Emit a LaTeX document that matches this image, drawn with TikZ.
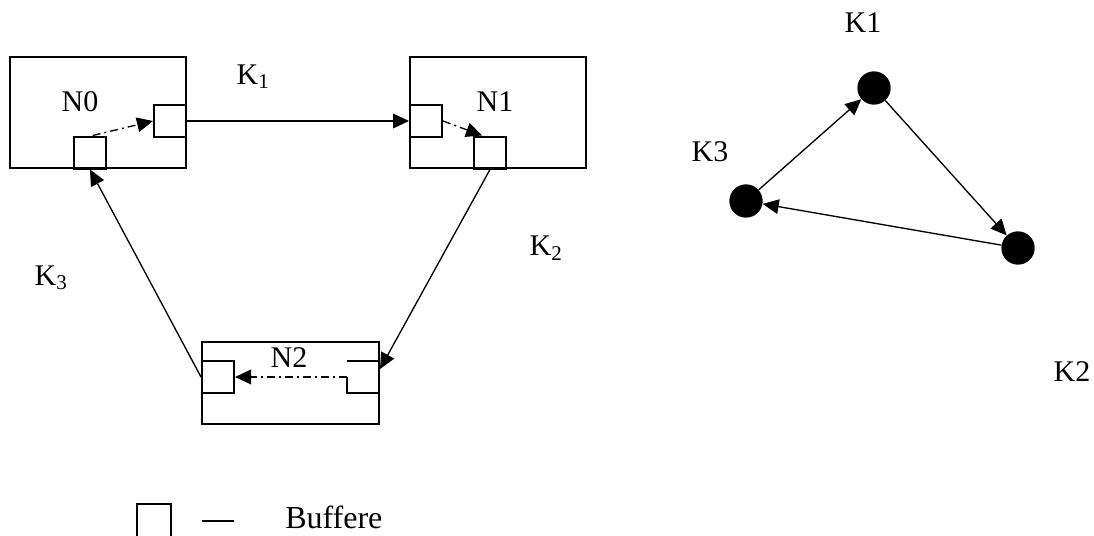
\documentclass[tikz,border=0pt]{standalone}
\usepackage{fontspec}
\setmainfont{Liberation Serif}
\usetikzlibrary{arrows.meta}
\begin{document}
\begin{tikzpicture}[x=0.75pt,y=-0.75pt,
  lbl/.style={font=\fontsize{22.5}{27}\selectfont, inner sep=0pt},
  bigbox/.style={draw, line width=1.5pt, inner sep=0pt, minimum width=132pt, minimum height=83.25pt},
  buf/.style={draw, line width=1.5pt, inner sep=0pt, minimum size=24pt},
  dot/.style={circle, fill=black, inner sep=0pt, minimum size=25pt},
  conn/.style={line width=1pt, -{Triangle[length=12pt,width=11pt]}},
  dashconn/.style={conn, dash pattern=on 6pt off 3pt on 1.5pt off 3pt}]
\useasboundingbox (0,0) rectangle (1094,535);
% boxes
\node[bigbox] (N0) at (98,112.5) {};
\node[bigbox] (N1) at (498,112.5) {};
\node[bigbox, minimum width=132.75pt, minimum height=61.5pt] (N2) at (290.5,383) {};
% buffers
\node[buf] (b0r) at (170,121) {};
\node[buf] (b0b) at (90,152.5) {};
\node[buf] (b1l) at (426,121) {};
\node[buf] (b1b) at (490,152.5) {};
\node[buf] (b2l) at (218,377) {};
\draw[line width=1.5pt] (347,361) -- (379,361);
\draw[line width=1.5pt] (347,377) -- (347,393) -- (379,393);
\coordinate (b2r) at (347,377);
\coordinate (k2end) at (380,369);
% labels
\node[lbl] (tN0) at (80,102) {N0};
\node[lbl] (tN1) at (495,102) {N1};
\node[lbl] (tN2) at (289,358) {N2};
\node[lbl] (tK1) at (253,77) {K\textsubscript{1}};
\node[lbl] (tK2) at (546,248) {K\textsubscript{2}};
\node[lbl] (tK3) at (51,278) {K\textsubscript{3}};
% connectors
\draw[conn] (b0r.east) -- (b1l.west);
\draw[conn] (b1b.south) -- (k2end);
\draw[conn] (b2l.west) -- (b0b.south);
\draw[dashconn] ([xshift=2pt]b0b.north) -- (b0r.west);
\draw[dashconn] (b1l.east) -- ([xshift=-6pt]b1b.north);
\draw[dashconn] (b2r) -- (b2l.east);
% right graph
\node[dot] (c1) at (874,88) {};
\node[dot] (c3) at (746,201) {};
\node[dot] (c2) at (1018,248) {};
\node[lbl] (l1) at (863,23) {K1};
\node[lbl] (l3) at (710,152) {K3};
\node[lbl] (l2) at (1072,372) {K2};
\draw[conn] (c3) -- (c1);
\draw[conn] (c1) -- (c2);
\draw[conn] (c2) -- (c3);
% legend
\draw[line width=1.5pt] (137,536) -- (137,504) -- (171,504) -- (171,536);
\draw[line width=1pt] (202,521) -- (234,521);
\node[lbl, anchor=west, font=\fontsize{24}{28}\selectfont] (leg) at (285,517) {Buffere};
\end{tikzpicture}
\end{document}
